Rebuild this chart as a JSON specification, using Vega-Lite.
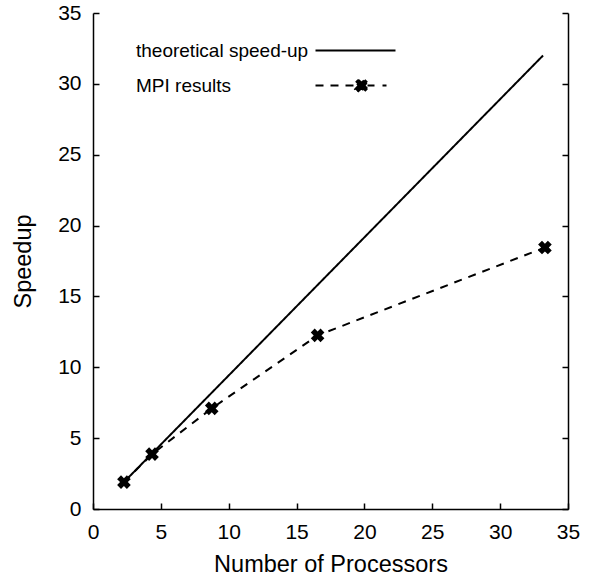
{
  "$schema": "https://vega.github.io/schema/vega-lite/v6.json",
  "autosize": {"type": "none"},
  "width": 475,
  "height": 496,
  "padding": {"left": 93, "top": 13, "right": 32, "bottom": 72},
  "background": "white",
  "config": {
    "view": {"stroke": null},
    "font": "Liberation Sans",
    "axis": {
      "domainColor": "black",
      "domainWidth": 1.5,
      "tickColor": "black",
      "tickWidth": 1.5,
      "tickSize": -6,
      "grid": false,
      "labelFont": "Liberation Sans",
      "labelFontSize": 21,
      "labelColor": "black",
      "titleFont": "Liberation Sans",
      "titleFontSize": 23.5,
      "titleFontWeight": "normal",
      "titleColor": "black"
    }
  },
  "data": {
    "values": [
      {"series": "theoretical speed-up", "processors": 2.28, "speedup": 1.9},
      {"series": "theoretical speed-up", "processors": 33.16, "speedup": 32},
      {"series": "MPI results", "processors": 2.28, "speedup": 1.9},
      {"series": "MPI results", "processors": 4.35, "speedup": 3.87},
      {"series": "MPI results", "processors": 8.75, "speedup": 7.1},
      {"series": "MPI results", "processors": 16.55, "speedup": 12.25},
      {"series": "MPI results", "processors": 33.3, "speedup": 18.45}
    ]
  },
  "layer": [
    {
      "mark": {"type": "line", "color": "black", "strokeWidth": 2},
      "encoding": {
        "x": {
          "field": "processors", "type": "quantitative",
          "scale": {"domain": [0, 35], "nice": false, "zero": false},
          "axis": {"values": [0, 5, 10, 15, 20, 25, 30, 35], "title": "Number of Processors", "labelPadding": 18, "titlePadding": 10, "labelFlush": false}
        },
        "y": {
          "field": "speedup", "type": "quantitative",
          "scale": {"domain": [0, 35], "nice": false, "zero": false},
          "axis": {"values": [0, 5, 10, 15, 20, 25, 30, 35], "title": "Speedup", "labelPadding": 18, "titlePadding": 22, "labelFlush": false}
        },
        "strokeDash": {
          "field": "series", "type": "nominal",
          "scale": {"domain": ["theoretical speed-up", "MPI results"], "range": [[1, 0], [8, 7]]},
          "legend": {
            "title": null,
            "orient": "none",
            "legendX": 253,
            "legendY": 28,
            "padding": 0,
            "symbolSize": 100,
            "symbolStrokeWidth": 2,
            "symbolStrokeColor": "black",
            "symbolFillColor": "black",
            "rowPadding": 14,
            "labelOffset": -229,
            "labelAlign": "left",
            "labelBaseline": "middle",
            "labelFont": "Liberation Sans",
            "labelFontSize": 19,
            "labelColor": "black",
            "labelLimit": 400,
            "encode": {
              "symbols": {
                "update": {
                  "shape": {"signal": "datum.label === 'MPI results' ? 'M-8,0H-6.4M-5,0H-3.4M-2,0H-0.4M2.4,0H3.8M5.4,0H6.2M0.43,1.27L1.2,0.55L1.97,1.27L2.47,0.77L1.75,0L2.47,-0.77L1.97,-1.27L1.2,-0.55L0.43,-1.27L-0.07,-0.77L0.65,0L-0.07,0.77Z' : 'M-8,0H8'"},
                  "stroke": {"value": "black"},
                  "fill": {"value": "black"},
                  "strokeWidth": {"value": 2},
                  "opacity": {"value": 1}
                }
              }
            }
          }
        }
      }
    },
    {
      "transform": [{"filter": "datum.series === 'MPI results'"}],
      "mark": {"type": "point", "shape": "cross", "angle": 45, "filled": true, "color": "black", "size": 190, "opacity": 1},
      "encoding": {
        "x": {"field": "processors", "type": "quantitative"},
        "y": {
          "field": "speedup", "type": "quantitative",
          "scale": {"domain": [0, 35], "nice": false, "zero": false},
          "axis": {"orient": "right", "values": [0, 5, 10, 15, 20, 25, 30, 35], "labels": false, "title": null}
        }
      }
    }
  ],
  "resolve": {"scale": {"y": "independent"}}
}
